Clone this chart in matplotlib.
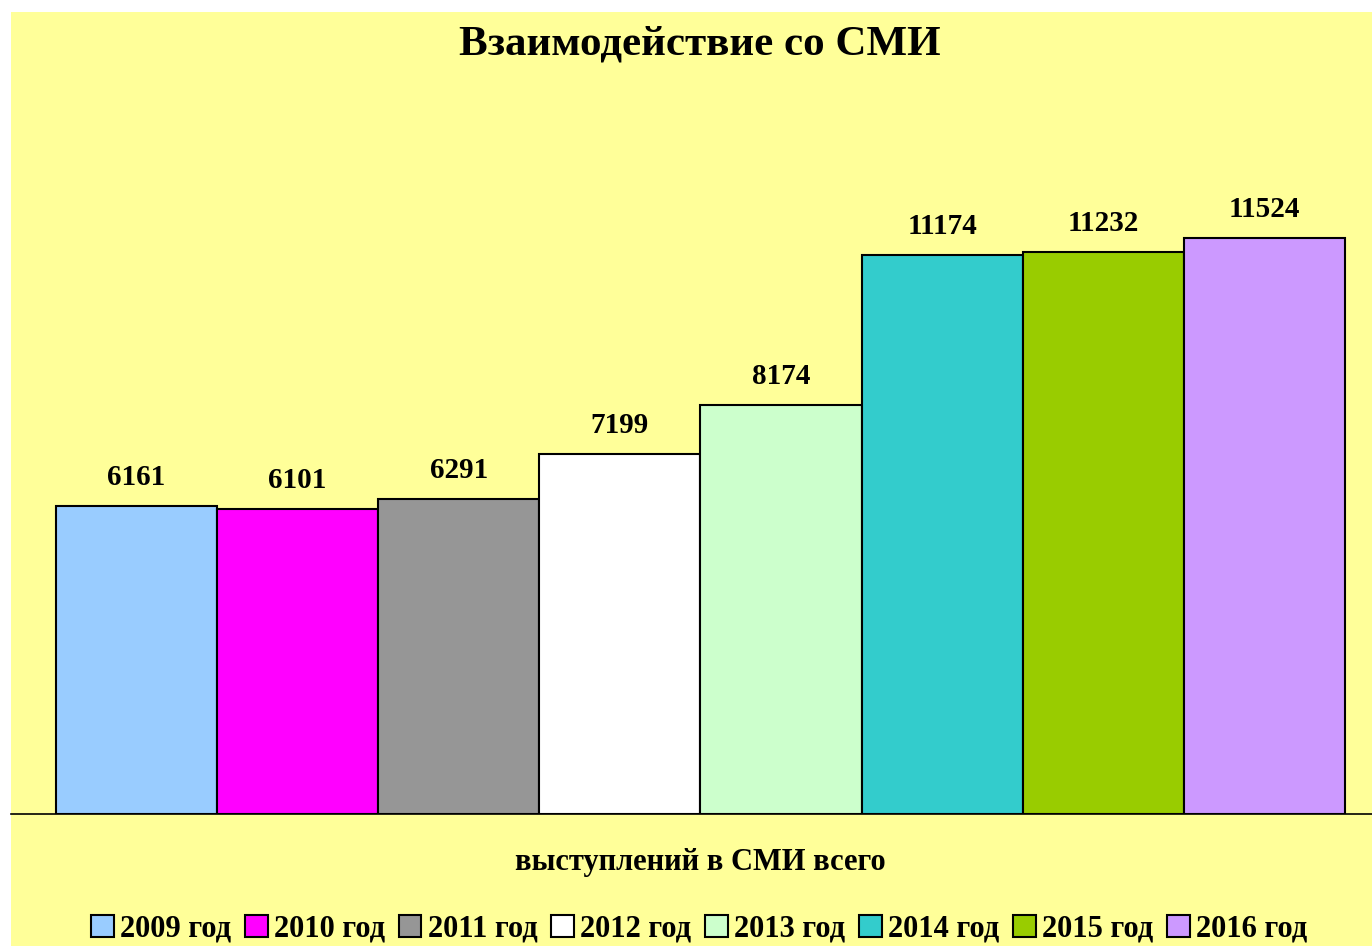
import matplotlib
matplotlib.use("Agg")
import matplotlib.pyplot as plt
from matplotlib.patches import Rectangle

# data
years = ['2009 год', '2010 год', '2011 год', '2012 год', '2013 год',
         '2014 год', '2015 год', '2016 год']
values = [6161, 6101, 6291, 7199, 8174, 11174, 11232, 11524]
colors = ['#99CCFF', '#FF00FF', '#969696', '#FFFFFF', '#CCFFCC',
          '#33CCCC', '#99CC00', '#CC99FF']

plt.rcParams['font.family'] = ['Liberation Serif', 'DejaVu Serif']
plt.rcParams['font.weight'] = 'bold'

W, H = 1372, 946
fig = plt.figure(figsize=(W / 100, H / 100), dpi=100)
fig.patch.set_facecolor('white')
# yellow chart area
fig.patches.append(Rectangle((11 / W, 0), 1 - 11 / W, 1 - 12 / H,
                             transform=fig.transFigure, facecolor='#FFFF99',
                             edgecolor='none', zorder=-5))

ax = fig.add_axes([11 / W, (H - 814) / H, (W - 11) / W, (814 - 114) / H])
ax.set_facecolor('none')
ax.set_zorder(1)

xs = list(range(len(values)))
bars = ax.bar(xs, values, width=1.0, color=colors, edgecolor='black',
              linewidth=1.5)
for x, v in zip(xs, values):
    ax.text(x, v + 300, str(v), ha='center', va='bottom', fontsize=21,
            fontweight='bold')

ax.set_ylim(0, 14000)
ax.set_xlim(-0.779, 7.668)
for s in ['top', 'right', 'left']:
    ax.spines[s].set_visible(False)
ax.spines['bottom'].set_linewidth(1.2)
ax.set_xticks([])
ax.set_yticks([])

fig.text(700 / W, 1 - 45 / H, 'Взаимодействие со СМИ', ha='center',
         va='center', fontsize=31, fontweight='bold')
fig.text(700 / W, 1 - 862 / H, 'выступлений в СМИ всего', ha='center',
         va='center', fontsize=22, fontweight='bold')

leg = fig.legend(bars, years, loc='center', bbox_to_anchor=(699 / W, 1 - 929 / H),
                 ncol=8, frameon=False, handlelength=0.75,
                 handleheight=0.75, handletextpad=0.2, columnspacing=0.45,
                 prop={'weight': 'bold', 'size': 22})

fig.savefig('out.png', dpi=100)
